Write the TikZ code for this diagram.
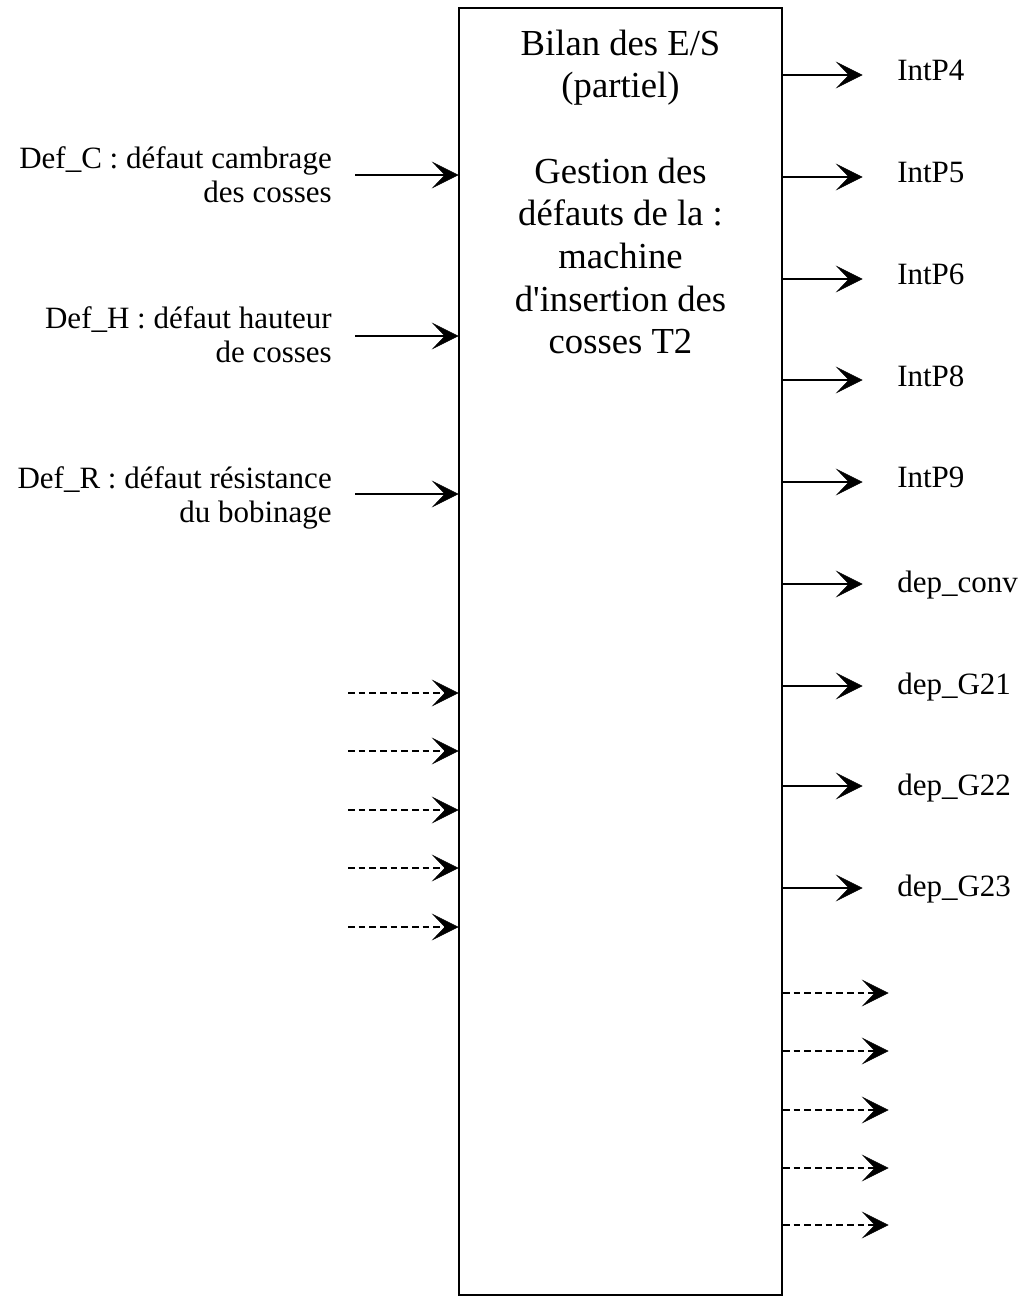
\documentclass[tikz,border=0pt]{standalone}
\usepackage{fontspec}
\setmainfont{Liberation Serif}
\usetikzlibrary{calc}
\begin{document}
\begin{tikzpicture}[x=0.75pt,y=-0.75pt,
  lbl/.style={font=\fontsize{23.25}{26}\selectfont, inner sep=0pt},
  ttl/.style={font=\fontsize{27.5}{32}\selectfont, inner sep=0pt},
  arr/.style={line width=1.5pt},
  darr/.style={arr, dash pattern=on 5pt off 3pt},
  headfill/.style={fill=black, draw=black, line width=0.4pt, line join=miter}]
\newcommand\ahead[1]{\path[headfill] (#1) -- ++(-25,-12.5) -- ++(12,12.5) -- ++(-12,12.5) -- cycle;}
\useasboundingbox (0,0) rectangle (1023,1296);
\node[draw, line width=1.5pt, minimum width=242.25pt, minimum height=965.25pt, inner sep=0pt] (box) at (620.5,651.5) {};
% title
\node[ttl, anchor=base] (t1) at (620.5,55) {Bilan des E/S};
\node[ttl, anchor=base] (t2) at (620.5,97) {(partiel)};
\node[ttl, anchor=base] (t3) at (620.5,183) {Gestion des};
\node[ttl, anchor=base] (t4) at (620.5,225) {défauts de la :};
\node[ttl, anchor=base] (t5) at (620.5,268) {machine};
\node[ttl, anchor=base] (t6) at (620.5,311) {d\textquotesingle insertion des};
\node[ttl, anchor=base] (t7) at (620.5,353) {cosses T2};
% left labels
\node[lbl, anchor=base east] (lc1) at (332,168) {Def\_C : défaut cambrage};
\node[lbl, anchor=base east] (lc2) at (332,202) {des cosses};
\node[lbl, anchor=base east] (lh1) at (332,328) {Def\_H : défaut hauteur};
\node[lbl, anchor=base east] (lh2) at (332,362) {de cosses};
\node[lbl, anchor=base east] (lr1) at (332,488) {Def\_R : défaut résistance};
\node[lbl, anchor=base east] (lr2) at (332,522) {du bobinage};
% left solid arrows
\foreach \y/\n in {175/ia,336/ib,494/ic}{
  \coordinate (\n) at (355,\y);
  \coordinate (\n e) at (\n -| box.west);
  \draw[arr] (\n) -- ($(\n e)+(-10,0)$);
  \ahead{\n e}
}
% left dashed arrows
\foreach \y/\n in {693/da,751/db,810/dc,868/dd,927/de}{
  \coordinate (\n) at (348,\y);
  \coordinate (\n e) at (\n -| box.west);
  \draw[darr] (\n) -- ($(\n e)+(-10,0)$);
  \ahead{\n e}
}
% right solid arrows with labels
\foreach \y/\b/\t/\n in {75/80/IntP4/oa,177/182/IntP5/ob,279/284/IntP6/oc,380/386/IntP8/od,482/487/IntP9/oe,584/592/dep\_conv/of,686/694/dep\_G21/og,786/795/dep\_G22/oh,888/896/dep\_G23/oi}{
  \coordinate (\n) at (862,\y);
  \draw[arr] (\n -| box.east) -- ($(\n)+(-10,0)$);
  \ahead{\n}
  \node[lbl, anchor=base west] (\n l) at (897,\b) {\t};
}
% right dashed arrows
\foreach \y/\n in {993/ra,1051/rb,1110/rc,1168/rd,1225/re}{
  \coordinate (\n) at (888,\y);
  \draw[darr] (\n -| box.east) -- ($(\n)+(-10,0)$);
  \ahead{\n}
}
\end{tikzpicture}
\end{document}
